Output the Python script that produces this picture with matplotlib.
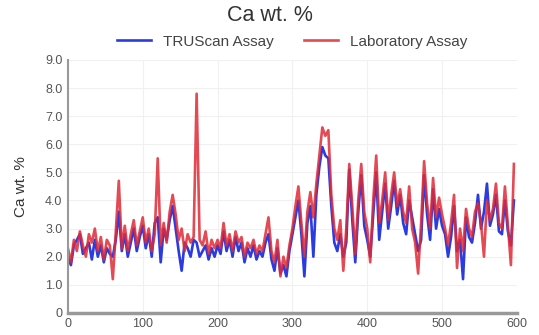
import matplotlib.pyplot as plt
import numpy as np

plt.rcParams['font.family'] = ['Liberation Sans', 'DejaVu Sans']

# sample number, every 4th sample
sample_no = np.arange(0, 600, 4)

truscan = [
    2.0, 1.7, 2.4, 2.6, 2.8, 2.1, 2.3, 2.5, 1.9, 2.6, 2.0, 2.4, 1.8, 2.3, 2.1, 2.0, 2.6, 3.6, 2.2, 2.8, 2.0, 2.5, 3.0, 2.2, 2.7,
    3.1, 2.3, 2.8, 2.0, 3.2, 3.4, 1.8, 3.0, 2.6, 3.3, 3.8, 3.0, 2.2, 1.5, 2.5, 2.3, 2.0, 2.6, 2.5, 2.0, 2.2, 2.4, 1.9, 2.3, 2.0,
    2.4, 2.1, 2.9, 2.2, 2.6, 2.0, 2.7, 2.2, 2.5, 1.8, 2.3, 2.0, 2.4, 1.9, 2.2, 2.0, 2.5, 2.8, 1.9, 1.5, 2.3, 1.4, 1.7, 1.3, 2.2,
    2.8, 3.4, 4.0, 2.8, 1.3, 3.2, 3.8, 2.0, 4.2, 5.2, 5.9, 5.6, 5.5, 3.8, 2.5, 2.2, 2.8, 2.0, 2.5, 5.1, 3.3, 1.8, 3.6, 4.9, 3.1,
    2.6, 2.0, 3.5, 5.0, 2.6, 3.6, 4.6, 3.0, 3.8, 4.7, 3.5, 4.2, 3.2, 2.8, 4.0, 3.4, 2.8, 2.2, 2.6, 4.9, 3.5, 2.6, 4.4, 3.0, 3.7,
    3.1, 2.8, 2.0, 2.7, 3.8, 2.2, 2.6, 1.2, 3.4, 2.7, 2.5, 3.2, 4.2, 3.0, 3.6, 4.6, 3.1, 3.5, 4.2, 2.9, 2.8, 4.0, 2.9, 2.4, 4.0,
]

laboratory = [
    2.3, 1.8, 2.6, 2.2, 2.9, 2.4, 2.0, 2.8, 2.5, 3.0, 2.2, 2.7, 1.9, 2.6, 2.4, 1.2, 2.9, 4.7, 2.3, 3.1, 2.2, 2.8, 3.3, 2.4, 2.9,
    3.4, 2.5, 3.0, 2.2, 2.8, 5.5, 2.4, 3.2, 2.5, 3.6, 4.2, 3.5, 2.6, 3.0, 2.2, 2.8, 2.5, 2.7, 7.8, 2.6, 2.4, 2.9, 2.1, 2.6, 2.3,
    2.6, 2.3, 3.2, 2.4, 2.8, 2.2, 2.9, 2.5, 2.7, 2.0, 2.5, 2.3, 2.6, 2.1, 2.4, 2.2, 2.8, 3.4, 2.2, 1.8, 2.6, 1.3, 2.0, 1.6, 2.4,
    3.0, 3.8, 4.5, 3.2, 2.0, 3.6, 4.3, 3.4, 4.6, 5.6, 6.6, 6.3, 6.5, 4.2, 3.0, 2.6, 3.3, 1.5, 3.0, 5.3, 3.8, 2.1, 4.0, 5.3, 3.6,
    3.0, 1.8, 4.0, 5.6, 3.2, 4.0, 5.0, 3.3, 4.2, 5.0, 3.8, 4.4, 3.6, 3.2, 4.5, 3.0, 2.5, 1.4, 3.2, 5.4, 3.9, 3.0, 4.8, 3.4, 4.1,
    3.5, 3.0, 2.4, 3.2, 4.2, 1.6, 3.0, 2.2, 3.7, 3.0, 2.7, 3.6, 3.9, 3.2, 2.0, 4.0, 3.3, 3.7, 4.6, 3.2, 3.0, 4.5, 3.1, 1.7, 5.3,
]

y_ticks = [0, 1, 2, 3, 4, 5, 6, 7, 8, 9]
y_labels = ['0', '1.0', '2.0', '3.0', '4.0', '5.0', '6.0', '7.0', '8.0', '9.0']
x_ticks = [0, 100, 200, 300, 400, 500, 600]

fig = plt.figure(figsize=(5.39, 3.35), dpi=100)
ax = fig.add_axes([0.126, 0.066, 0.833, 0.755])

ax.plot(sample_no, truscan, color='#2a3be0', lw=1.9, label='TRUScan Assay')
ax.plot(sample_no, laboratory, color='#e02a36', lw=1.9, alpha=0.85, label='Laboratory Assay')

ax.set_xlim(0, 600)
ax.set_ylim(0, 9)
ax.set_yticks(y_ticks)
ax.set_yticklabels(y_labels)
ax.set_xticks(x_ticks)
ax.tick_params(length=0, labelsize=9, labelcolor='#555555', pad=4)
ax.grid(True, color='#f0f0f0', lw=0.8)
ax.set_axisbelow(True)

for side in ['top', 'right']:
    ax.spines[side].set_visible(False)
ax.spines['left'].set_color('#999999')
ax.spines['left'].set_linewidth(1.5)
ax.spines['bottom'].set_color('#999999')
ax.spines['bottom'].set_linewidth(2.5)

ax.set_ylabel('Ca wt. %', fontsize=11, color='#333333', labelpad=12)
fig.suptitle('Ca wt. %', fontsize=15.5, color='#333333', y=0.985)
ax.legend(loc='lower center', bbox_to_anchor=(0.5, 0.99), ncol=2, frameon=False,
          fontsize=11, handlelength=2.2, columnspacing=2.0, labelcolor='#444444')

fig.savefig('out.png', dpi=100)
